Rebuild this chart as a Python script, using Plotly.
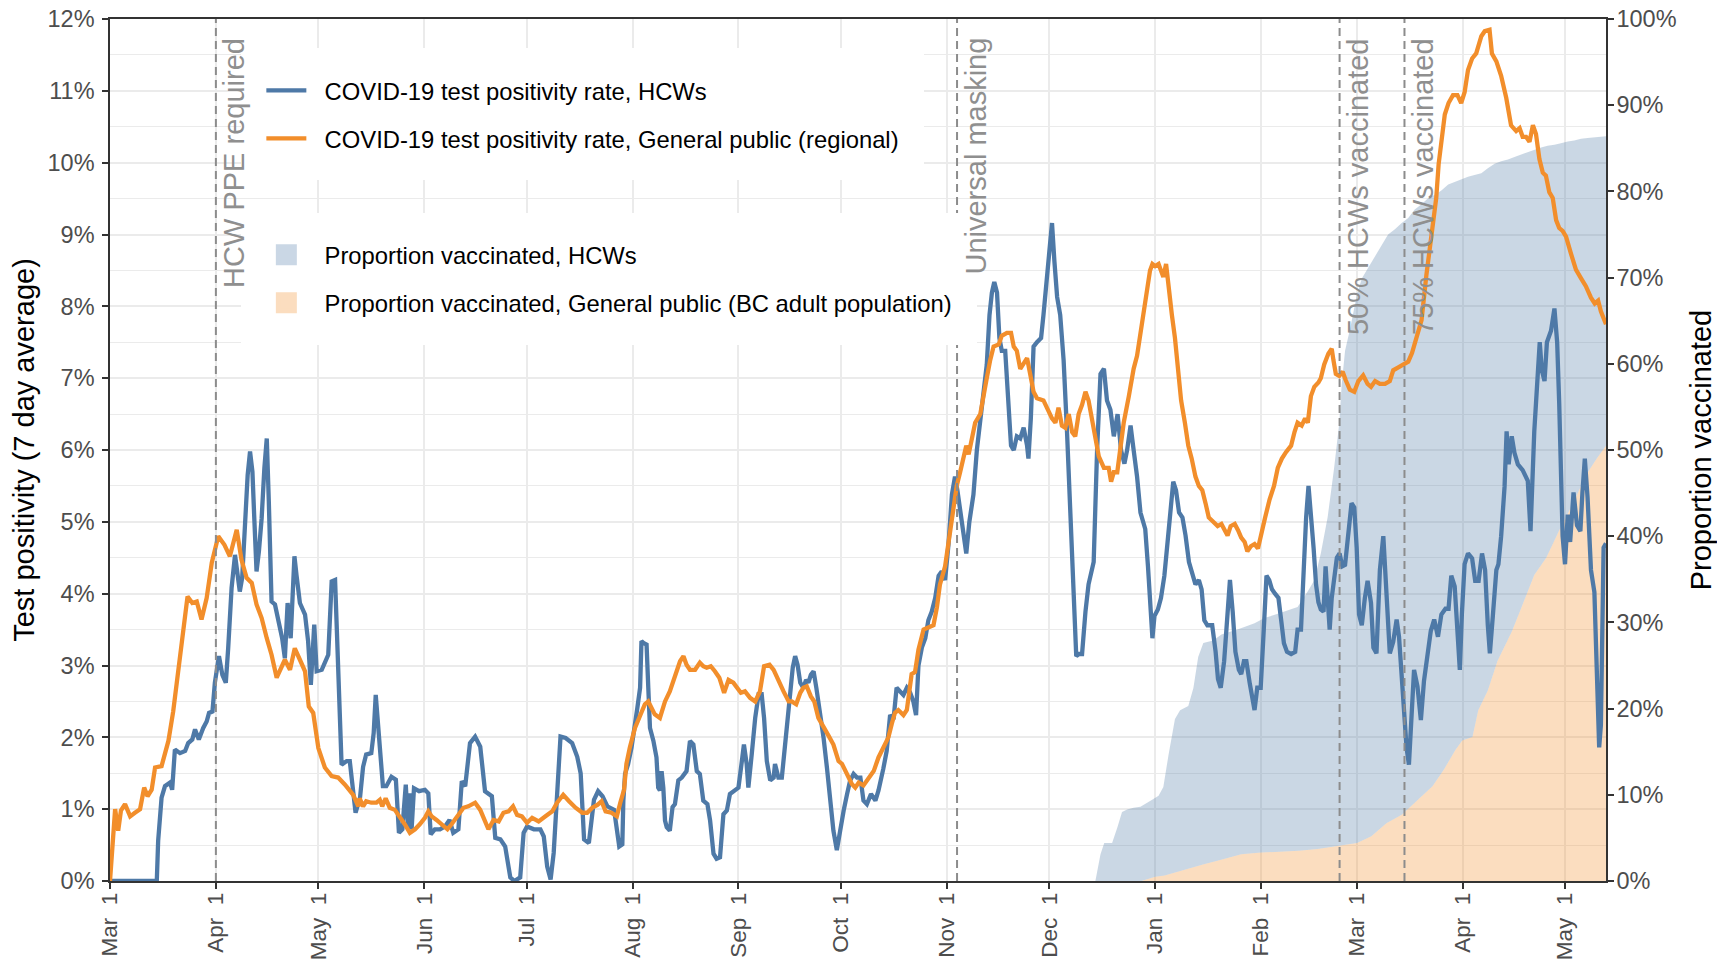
import pandas as pd
import plotly.graph_objects as go

START_DATE = "2020-03-01"
END_DATE = "2021-05-13"

# (days since 1 Mar 2020, 7-day test positivity %)
hcw_positivity = [
    (0, 0), (13.7, 0), (14.1, 0.56), (15.1, 1.16), (16.1, 1.32), (17.6, 1.37), (18.2, 1.27), (19.0, 1.83),
    (20.5, 1.78), (22.0, 1.81), (22.9, 1.92), (24.1, 1.97), (24.9, 2.11), (26.0, 1.97), (27.3, 2.13),
    (28.3, 2.22), (29.0, 2.34), (30.0, 2.36), (30.7, 2.76), (31.9, 3.13), (32.9, 2.87), (33.9, 2.76),
    (34.6, 3.24), (35.6, 4.08), (36.6, 4.54), (37.6, 4.17), (38.0, 4.03), (38.7, 4.22), (39.5, 4.91),
    (40.3, 5.65), (41.0, 5.98), (41.7, 5.70), (42.2, 5.10), (42.9, 4.31), (43.6, 4.59), (44.4, 5.05),
    (45.2, 5.75), (45.9, 6.16), (46.5, 5.28), (47.3, 3.89), (48.3, 3.85), (49.3, 3.61), (50.4, 3.38),
    (51.2, 3.10), (52.0, 3.87), (52.9, 3.38), (54.0, 4.52), (54.6, 4.26), (55.6, 3.87), (57.1, 3.71),
    (58.0, 3.34), (58.8, 2.73), (59.8, 3.57), (60.5, 2.92), (62.0, 2.94), (63.9, 3.15), (64.9, 4.17),
    (65.9, 4.19), (66.8, 3.01), (67.8, 1.62), (69.3, 1.67), (70.2, 1.67), (71.9, 0.95), (73.2, 1.16),
    (74.1, 1.59), (75.0, 1.76), (76.5, 1.78), (77.2, 2.06), (77.8, 2.59), (78.5, 2.15), (79.2, 1.73),
    (79.9, 1.32), (80.9, 1.32), (82.4, 1.45), (83.7, 1.41), (84.6, 0.67), (85.6, 0.72), (86.6, 1.34),
    (87.3, 0.72), (87.8, 1.22), (88.3, 0.72), (89.0, 1.29), (90.5, 1.25), (92.2, 1.27), (93.2, 1.22),
    (93.9, 0.65), (95.1, 0.72), (96.6, 0.72), (98.1, 0.76), (99.4, 0.85), (100.5, 0.67), (102.0, 0.72),
    (103.0, 1.39), (104.0, 1.32), (105.4, 1.92), (106.9, 2.01), (108.4, 1.87), (109.8, 1.25), (111.8, 1.18),
    (112.8, 0.60), (114.3, 0.58), (115.7, 0.48), (117.2, 0.05), (118.4, 0.0), (120.1, 0.05), (121.1, 0.67),
    (122.1, 0.76), (124.1, 0.72), (126.0, 0.72), (127.0, 0.62), (128.0, 0.20), (129.0, 0.02), (129.9, 0.39),
    (130.9, 1.32), (131.9, 2.01), (133.4, 1.99), (135.3, 1.92), (136.8, 1.73), (137.8, 1.50), (138.8, 0.58),
    (140.2, 0.53), (141.7, 1.13), (142.9, 1.25), (144.2, 1.18), (145.6, 1.04), (147.6, 0.99), (149.1, 0.48),
    (150.0, 0.51), (150.3, 1.12), (150.8, 1.49), (151.7, 1.63), (152.7, 1.86), (153.4, 2.13), (154.4, 2.41),
    (155.2, 2.69), (155.6, 3.34), (156.3, 3.31), (157.1, 3.29), (157.6, 2.69), (158.1, 2.13), (159.1, 1.95),
    (160.0, 1.72), (160.5, 1.30), (161.0, 1.26), (161.5, 1.53), (162.0, 1.30), (162.5, 0.84), (163.0, 0.75),
    (163.9, 0.70), (164.7, 1.03), (165.4, 1.07), (166.4, 1.40), (167.4, 1.44), (168.8, 1.53), (169.8, 1.95),
    (170.8, 1.90), (171.8, 1.53), (172.7, 1.49), (173.7, 1.12), (174.9, 1.07), (175.7, 0.84), (176.7, 0.38),
    (177.6, 0.31), (178.6, 0.33), (179.6, 0.93), (180.6, 0.98), (181.5, 1.21), (183.0, 1.26), (184.0, 1.30),
    (185.0, 1.67), (185.6, 1.90), (186.4, 1.63), (186.9, 1.30), (187.9, 1.77), (188.9, 2.27), (189.9, 2.60),
    (190.8, 2.60), (191.5, 2.27), (192.3, 1.67), (193.3, 1.40), (194.3, 1.44), (194.7, 1.63), (195.7, 1.44),
    (196.7, 1.44), (197.7, 1.95), (198.7, 2.32), (199.3, 2.69), (199.9, 2.97), (200.6, 3.13), (201.3, 3.01),
    (202.1, 2.76), (203.0, 2.69), (203.8, 2.80), (204.5, 2.76), (205.2, 2.87), (206.0, 2.92), (206.8, 2.69),
    (207.9, 2.37), (208.9, 2.00), (209.9, 1.58), (210.9, 1.03), (211.8, 0.70), (212.8, 0.43), (213.8, 0.75),
    (214.8, 0.98), (215.8, 1.21), (216.7, 1.40), (217.7, 1.49), (218.7, 1.44), (219.7, 1.44), (220.6, 1.12),
    (221.6, 1.07), (222.8, 1.21), (224.1, 1.12), (225.0, 1.26), (226.4, 1.56), (227.4, 1.81), (228.4, 2.31),
    (229.4, 2.25), (230.3, 2.69), (231.3, 2.63), (232.3, 2.59), (233.3, 2.69), (234.2, 2.63), (235.2, 2.50),
    (236.0, 2.31), (236.7, 3.00), (237.7, 3.25), (238.7, 3.38), (239.6, 3.63), (240.6, 3.75), (241.6, 3.94),
    (242.6, 4.25), (243.5, 4.31), (244.5, 4.19), (245.5, 4.69), (246.5, 5.38), (247.4, 5.63), (248.1, 5.44),
    (249.4, 5.00), (250.7, 4.56), (251.6, 5.00), (252.8, 5.38), (253.8, 6.00), (254.8, 6.38), (255.8, 6.81),
    (256.7, 7.19), (257.5, 7.88), (258.2, 8.19), (258.9, 8.34), (259.7, 8.19), (260.4, 7.56), (261.1, 7.38),
    (262.1, 7.38), (262.8, 6.81), (263.8, 6.06), (264.6, 6.00), (265.5, 6.19), (266.5, 6.16), (267.5, 6.31),
    (268.5, 6.06), (268.9, 5.88), (269.6, 6.44), (270.4, 7.44), (271.4, 7.50), (272.6, 7.56), (273.3, 7.88),
    (274.3, 8.44), (275.1, 8.88), (275.8, 9.16), (276.5, 8.63), (277.3, 8.13), (278.2, 7.88), (279.2, 7.25),
    (280.2, 6.25), (281.2, 5.06), (282.1, 3.81), (282.9, 3.13), (283.7, 3.16), (284.6, 3.16), (285.6, 3.75),
    (286.5, 4.13), (288.0, 4.44), (289.0, 6.00), (290.0, 7.06), (291.0, 7.13), (291.9, 6.69), (292.9, 6.56),
    (293.9, 6.19), (295.0, 6.50), (296.0, 6.00), (297.0, 5.81), (297.8, 6.00), (298.8, 6.34), (299.7, 6.00),
    (300.7, 5.63), (301.7, 5.13), (303.1, 4.90), (303.9, 4.38), (304.5, 3.88), (305.2, 3.38), (305.8, 3.69),
    (306.8, 3.78), (307.7, 3.94), (308.7, 4.25), (309.7, 4.75), (310.7, 5.25), (311.3, 5.56), (312.1, 5.44),
    (313.0, 5.13), (314.0, 5.06), (314.9, 4.81), (315.9, 4.44), (316.9, 4.25), (317.8, 4.13), (318.8, 4.19),
    (319.6, 4.06), (320.4, 3.63), (321.3, 3.56), (322.7, 3.56), (323.7, 3.19), (324.4, 2.81), (325.2, 2.69),
    (326.2, 3.06), (327.2, 3.75), (327.9, 4.19), (328.7, 3.75), (329.5, 3.19), (330.5, 2.94), (331.2, 2.88),
    (332.0, 3.06), (332.7, 3.06), (333.7, 2.75), (334.6, 2.50), (335.1, 2.38), (335.9, 2.69), (336.9, 2.69),
    (337.8, 3.50), (338.6, 4.25), (339.4, 4.19), (340.2, 4.06), (341.1, 4.00), (342.1, 3.94), (342.9, 3.63),
    (343.7, 3.31), (344.6, 3.19), (345.8, 3.16), (347.0, 3.19), (347.7, 3.50), (348.7, 3.50), (349.5, 4.38),
    (350.2, 5.06), (350.9, 5.50), (351.6, 5.13), (352.4, 4.63), (353.1, 4.13), (353.8, 3.88), (354.5, 3.78),
    (355.3, 3.75), (355.9, 4.38), (356.5, 3.88), (357.1, 3.50), (357.7, 3.94), (358.4, 4.25), (359.2, 4.50),
    (360.0, 4.56), (360.8, 4.38), (361.6, 4.40), (362.6, 4.80), (363.5, 5.26), (364.3, 5.20), (365.0, 4.64),
    (365.7, 3.71), (366.5, 3.56), (367.4, 3.94), (368.2, 4.18), (369.2, 3.87), (369.9, 3.25), (370.8, 3.17),
    (371.8, 4.33), (372.8, 4.80), (373.8, 3.87), (374.7, 3.17), (375.7, 3.33), (376.7, 3.64), (377.4, 3.40),
    (378.1, 2.94), (378.9, 2.47), (379.6, 1.86), (380.3, 1.62), (381.1, 2.32), (381.8, 2.94), (382.8, 2.71),
    (383.8, 2.24), (384.7, 2.78), (385.7, 3.09), (386.7, 3.48), (387.7, 3.64), (388.8, 3.40), (389.8, 3.71),
    (391.0, 3.79), (391.9, 3.79), (392.7, 4.25), (393.7, 4.10), (394.5, 3.56), (395.2, 2.94), (395.8, 3.71),
    (396.6, 4.41), (397.6, 4.56), (398.8, 4.49), (399.7, 4.18), (400.7, 4.18), (401.7, 4.56), (402.6, 4.33),
    (403.4, 3.56), (404.0, 3.17), (404.9, 3.71), (405.9, 4.33), (406.5, 4.41), (407.3, 4.80), (408.3, 5.49),
    (408.9, 6.26), (409.5, 5.80), (410.4, 6.19), (411.2, 5.96), (412.2, 5.80), (413.6, 5.72), (415.1, 5.57),
    (415.9, 4.87), (416.3, 5.49), (417.0, 6.26), (418.0, 7.04), (418.6, 7.50), (419.2, 7.11), (420.0, 6.96),
    (420.7, 7.50), (421.9, 7.66), (422.9, 7.97), (423.7, 7.50), (424.3, 6.65), (424.8, 5.49), (425.3, 4.80),
    (426.0, 4.41), (426.8, 5.10), (427.5, 4.72), (428.5, 5.41), (429.5, 4.95), (430.5, 4.87), (431.1, 5.41),
    (431.8, 5.88), (432.6, 5.34), (433.6, 4.33), (434.6, 4.02), (435.3, 2.94), (436.0, 1.86), (436.5, 2.17),
    (437.3, 4.64), (438.0, 4.70),
]

gp_positivity = [
    (0, 0), (1.5, 1.00), (2.4, 0.70), (3.2, 0.98), (4.4, 1.07), (5.9, 0.90), (7.3, 0.95), (8.8, 1.00),
    (10.0, 1.30), (11.0, 1.18), (12.2, 1.27), (13.2, 1.58), (15.1, 1.60), (17.1, 1.95), (18.5, 2.36),
    (20.0, 2.97), (21.5, 3.48), (22.7, 3.96), (24.1, 3.87), (25.4, 3.89), (26.8, 3.64), (28.3, 3.94),
    (29.8, 4.43), (31.7, 4.80), (33.5, 4.68), (35.1, 4.52), (37.1, 4.89), (38.5, 4.47), (40.0, 4.22),
    (41.5, 4.15), (42.9, 3.85), (44.4, 3.66), (45.9, 3.38), (47.3, 3.15), (48.8, 2.83), (50.2, 2.97),
    (51.2, 3.08), (52.7, 2.94), (54.1, 3.24), (55.6, 3.08), (57.1, 2.92), (58.2, 2.43), (59.5, 2.34),
    (61.0, 1.85), (62.9, 1.58), (64.9, 1.46), (66.8, 1.44), (68.8, 1.34), (71.2, 1.20), (72.7, 1.04),
    (73.1, 1.15), (74.1, 1.04), (75.0, 1.11), (76.5, 1.09), (78.0, 1.09), (79.0, 1.13), (79.7, 1.04),
    (80.7, 1.15), (81.9, 1.02), (83.4, 0.99), (84.8, 0.90), (86.3, 0.79), (87.8, 0.67), (89.3, 0.72),
    (90.7, 0.79), (92.2, 0.88), (93.2, 0.97), (94.2, 0.90), (95.6, 0.85), (97.1, 0.79), (98.8, 0.72),
    (100.0, 0.79), (101.3, 0.88), (102.5, 0.95), (103.5, 1.02), (104.9, 1.04), (106.9, 1.09), (108.4, 0.99),
    (109.8, 0.85), (110.8, 0.72), (112.3, 0.85), (113.8, 0.83), (115.2, 0.95), (116.7, 0.97), (118.0, 1.04),
    (119.2, 0.92), (120.6, 0.90), (122.1, 0.81), (123.6, 0.88), (125.5, 0.83), (127.5, 0.90), (129.5, 0.97),
    (130.9, 1.09), (132.7, 1.20), (134.4, 1.11), (136.3, 1.02), (138.3, 0.95), (139.7, 0.95), (141.2, 1.02),
    (142.7, 1.06), (143.9, 1.11), (145.1, 0.97), (146.8, 0.95), (148.4, 0.90), (149.4, 1.09), (150.5, 1.27),
    (151.2, 1.63), (152.2, 1.86), (153.7, 2.13), (155.2, 2.32), (156.6, 2.46), (157.6, 2.50), (158.6, 2.41),
    (159.5, 2.32), (161.0, 2.27), (162.5, 2.50), (163.9, 2.64), (165.4, 2.87), (166.9, 3.06), (167.9, 3.13),
    (168.8, 3.01), (169.8, 2.94), (171.3, 2.94), (172.7, 3.04), (173.7, 2.99), (174.7, 2.97), (175.9, 2.99),
    (177.1, 2.92), (178.4, 2.83), (179.8, 2.62), (181.1, 2.80), (182.5, 2.76), (183.7, 2.69), (184.7, 2.62),
    (185.9, 2.64), (187.4, 2.55), (188.9, 2.50), (190.3, 2.64), (191.5, 2.99), (193.1, 3.01), (194.3, 2.94),
    (195.7, 2.78), (197.2, 2.64), (198.7, 2.50), (199.6, 2.50), (200.9, 2.46), (202.1, 2.62), (203.0, 2.69),
    (204.0, 2.71), (205.2, 2.57), (206.2, 2.50), (207.4, 2.27), (208.9, 2.13), (210.4, 2.02), (211.8, 1.90),
    (213.3, 1.67), (214.3, 1.63), (215.8, 1.49), (217.2, 1.35), (218.2, 1.30), (219.2, 1.37), (220.6, 1.33),
    (222.1, 1.44), (223.6, 1.53), (225.0, 1.72), (226.9, 1.91), (227.9, 2.00), (228.9, 2.19), (229.8, 2.34),
    (230.8, 2.38), (232.3, 2.31), (233.3, 2.38), (234.7, 2.88), (235.7, 2.91), (236.7, 3.22), (238.2, 3.50),
    (239.6, 3.53), (241.1, 3.56), (242.1, 3.81), (243.0, 4.13), (244.5, 4.38), (245.5, 4.69), (247.0, 5.19),
    (247.9, 5.50), (248.9, 5.69), (249.9, 5.88), (250.7, 6.06), (251.4, 5.94), (252.3, 6.13), (253.3, 6.38),
    (254.8, 6.50), (255.8, 6.81), (256.7, 7.00), (257.7, 7.25), (258.7, 7.44), (260.2, 7.47), (261.1, 7.59),
    (262.6, 7.63), (263.8, 7.63), (264.6, 7.44), (265.5, 7.38), (266.5, 7.13), (267.5, 7.22), (268.5, 7.28),
    (269.4, 7.06), (270.4, 6.81), (271.4, 6.72), (273.3, 6.69), (274.3, 6.59), (275.8, 6.44), (276.8, 6.38),
    (277.7, 6.59), (278.7, 6.34), (279.7, 6.31), (280.7, 6.50), (281.7, 6.25), (282.6, 6.19), (283.6, 6.50),
    (284.6, 6.63), (285.6, 6.81), (286.5, 6.69), (287.5, 6.44), (288.5, 6.13), (289.5, 5.91), (291.0, 5.75),
    (292.4, 5.75), (293.1, 5.56), (293.9, 5.69), (294.9, 5.69), (295.8, 6.06), (296.8, 6.38), (298.3, 6.75),
    (299.7, 7.13), (300.7, 7.31), (301.7, 7.60), (302.9, 7.95), (303.6, 8.19), (304.5, 8.50), (305.2, 8.59),
    (306.0, 8.56), (307.0, 8.59), (307.7, 8.50), (308.4, 8.41), (309.2, 8.59), (310.1, 8.13), (310.9, 7.88),
    (311.8, 7.56), (312.6, 7.13), (313.6, 6.69), (314.7, 6.38), (315.7, 6.06), (316.7, 5.88), (317.8, 5.63),
    (318.8, 5.50), (319.8, 5.44), (320.8, 5.25), (321.7, 5.06), (323.0, 5.00), (324.3, 4.94), (325.4, 4.97),
    (326.4, 4.88), (327.2, 4.81), (328.1, 4.94), (329.3, 4.97), (330.3, 4.88), (331.2, 4.78), (332.2, 4.72),
    (333.0, 4.59), (334.0, 4.66), (335.1, 4.69), (336.1, 4.63), (337.1, 4.81), (338.2, 5.06), (339.5, 5.31),
    (340.8, 5.50), (341.9, 5.75), (343.1, 5.88), (344.3, 5.97), (345.8, 6.06), (346.8, 6.25), (347.7, 6.38),
    (348.9, 6.34), (349.9, 6.44), (350.7, 6.38), (351.6, 6.75), (352.6, 6.88), (353.8, 6.94), (354.5, 7.00),
    (355.5, 7.19), (356.7, 7.34), (357.7, 7.41), (358.2, 7.25), (358.9, 7.06), (359.9, 7.03), (360.9, 7.09),
    (361.8, 6.97), (363.0, 6.84), (364.3, 6.81), (365.5, 6.96), (366.9, 7.04), (368.2, 6.92), (369.2, 6.88),
    (370.4, 6.96), (371.8, 6.92), (373.3, 6.92), (374.7, 6.96), (375.7, 7.11), (377.2, 7.15), (378.6, 7.19),
    (380.1, 7.23), (381.2, 7.35), (382.5, 7.58), (384.0, 7.81), (385.4, 8.43), (386.4, 8.82), (387.4, 9.13),
    (388.3, 9.51), (389.0, 9.98), (389.8, 10.29), (390.8, 10.67), (391.9, 10.83), (393.2, 10.94), (394.5, 10.94),
    (395.6, 10.83), (396.6, 10.98), (397.6, 11.29), (398.8, 11.45), (400.0, 11.52), (401.5, 11.76), (402.5, 11.83),
    (403.9, 11.85), (404.6, 11.52), (405.9, 11.41), (407.3, 11.21), (408.8, 10.90), (410.2, 10.52), (411.7, 10.44),
    (412.7, 10.48), (413.6, 10.36), (414.6, 10.36), (415.6, 10.29), (416.6, 10.52), (417.5, 10.40), (418.5, 10.05),
    (419.5, 9.86), (420.4, 9.82), (421.4, 9.59), (422.4, 9.51), (423.4, 9.20), (424.3, 9.09), (425.3, 9.05),
    (426.3, 8.97), (427.7, 8.74), (429.2, 8.51), (430.7, 8.39), (432.1, 8.28), (433.6, 8.12), (434.7, 8.04),
    (435.7, 8.08), (436.5, 7.93), (438.0, 7.75),
]

# (days since 1 Mar 2020, proportion vaccinated %)
hcw_vaccinated = [
    (288.5, 0), (290.0, 3.1), (291.1, 4.4), (293.4, 4.4), (295.0, 6.3), (296.3, 8.0), (297.8, 8.3),
    (299.7, 8.5), (301.7, 8.6), (303.1, 8.9), (305.0, 9.4), (307.0, 9.9), (308.4, 10.9), (309.9, 14.6),
    (310.9, 16.7), (311.8, 18.8), (313.3, 19.8), (315.7, 20.3), (317.2, 22.4), (318.6, 26.0), (320.1, 27.6),
    (323.0, 27.9), (325.4, 28.6), (330.3, 29.2), (335.1, 29.9), (338.0, 30.5), (341.9, 31.0), (345.8, 31.5),
    (347.7, 31.8), (350.7, 33.6), (352.6, 34.9), (354.5, 38.0), (356.5, 42.2), (358.4, 47.9), (359.9, 53.1),
    (360.6, 57.5), (361.6, 61.5), (363.1, 64.1), (365.0, 67.9), (366.5, 69.9), (368.4, 71.2), (370.4, 72.4),
    (372.3, 73.7), (374.2, 75.0), (376.2, 75.6), (378.1, 76.3), (380.1, 76.9), (382.0, 77.9), (384.0, 78.5),
    (385.9, 79.2), (387.9, 79.6), (389.8, 80.1), (391.8, 80.8), (393.7, 81.1), (395.6, 81.4), (397.6, 81.7),
    (399.5, 81.9), (401.5, 82.1), (403.4, 82.7), (405.4, 83.2), (407.3, 83.5), (409.3, 83.7), (411.2, 84.0),
    (413.2, 84.3), (415.1, 84.5), (417.0, 84.8), (419.0, 85.1), (420.9, 85.3), (422.9, 85.4), (424.8, 85.6),
    (426.8, 85.8), (428.7, 85.9), (430.7, 86.1), (432.6, 86.2), (434.6, 86.3), (438.0, 86.4),
]

gp_vaccinated = [
    (302.0, 0), (306.0, 0.5), (308.8, 0.65), (314.4, 1.3), (320.0, 1.9), (325.6, 2.5), (331.2, 3.1),
    (337.0, 3.3), (342.4, 3.4), (348.0, 3.5), (353.6, 3.7), (359.2, 4.0), (365.1, 4.4), (369.3, 5.2),
    (373.7, 6.7), (378.2, 7.7), (381.0, 8.7), (383.8, 9.8), (387.2, 11.0), (390.5, 12.9), (393.9, 15.2),
    (395.9, 16.3), (398.9, 16.7), (400.6, 19.8), (403.4, 22.1), (406.2, 25.5), (410.5, 29.0), (413.5, 32.0),
    (417.0, 35.5), (420.5, 37.5), (424.7, 41.0), (428.6, 44.0), (432.0, 47.0), (435.3, 49.0), (438.0, 50.5),
]

month_ticks = ["2020-03-01", "2020-04-01", "2020-05-01", "2020-06-01", "2020-07-01", "2020-08-01",
               "2020-09-01", "2020-10-01", "2020-11-01", "2020-12-01", "2021-01-01", "2021-02-01",
               "2021-03-01", "2021-04-01", "2021-05-01"]
month_names = ["Mar", "Apr", "May", "Jun", "Jul", "Aug", "Sep", "Oct", "Nov", "Dec",
               "Jan", "Feb", "Mar", "Apr", "May"]
month_labels = [m + "\u00a0\u00a01" for m in month_names]

positivity_ticks = list(range(0, 13))
positivity_labels = [f"{v}%" for v in positivity_ticks]
vaccinated_ticks = list(range(0, 101, 10))
vaccinated_labels = [f"{v}%" for v in vaccinated_ticks]

event_dates = ["2020-04-01", "2020-11-04", "2021-02-24", "2021-03-15"]
event_labels = ["HCW PPE required", "Universal masking", "50% HCWs vaccinated", "75% HCWs vaccinated"]

BLUE = "#4E79A7"
ORANGE = "#F28E2B"
FONT = "Liberation Sans, Arial, sans-serif"
PAD = "\u00a0\u00a0"


def to_xy(pairs):
    base = pd.Timestamp(START_DATE)
    days = [p[0] for p in pairs]
    vals = [p[1] for p in pairs]
    dates = base + pd.to_timedelta(days, unit="D")
    return list(dates), vals


fig = go.Figure()

gx, gy = to_xy(gp_vaccinated)
hx, hy = to_xy(hcw_vaccinated)
fig.add_trace(go.Scatter(x=gx, y=gy, yaxis="y", mode="lines", line=dict(width=0, color=ORANGE),
                         fill="tozeroy", fillcolor="rgba(242,142,43,0.3)", showlegend=False,
                         hoverinfo="skip"))
fig.add_trace(go.Scatter(x=hx, y=hy, yaxis="y", mode="lines", line=dict(width=0, color=BLUE),
                         fill="tonexty", fillcolor="rgba(78,121,167,0.3)", showlegend=False,
                         hoverinfo="skip"))

bx, by = to_xy(hcw_positivity)
ox, oy = to_xy(gp_positivity)
fig.add_trace(go.Scatter(x=bx, y=by, yaxis="y2", mode="lines", line=dict(color=BLUE, width=4.3),
                         name=PAD + "COVID-19 test positivity rate, HCWs", legend="legend",
                         legendgroup="l1"))
fig.add_trace(go.Scatter(x=ox, y=oy, yaxis="y2", mode="lines", line=dict(color=ORANGE, width=4.3),
                         name=PAD + "COVID-19 test positivity rate, General public (regional)",
                         legend="legend", legendgroup="l2"))

fig.add_trace(go.Scatter(x=[None], y=[None], yaxis="y", mode="markers",
                         marker=dict(symbol="square", size=16, color="#CAD7E5",
                                     line=dict(color="#CAD7E5", width=5)),
                         name=PAD + "Proportion vaccinated, HCWs", legend="legend2", legendgroup="f1"))
fig.add_trace(go.Scatter(x=[None], y=[None], yaxis="y", mode="markers",
                         marker=dict(symbol="square", size=16, color="#FBDDBF",
                                     line=dict(color="#FBDDBF", width=5)),
                         name=PAD + "Proportion vaccinated, General public (BC adult population)",
                         legend="legend2", legendgroup="f2"))

shapes = []
annotations = []
for d, lab in zip(event_dates, event_labels):
    shapes.append(dict(type="line", xref="x", yref="paper", x0=d, x1=d, y0=0, y1=1,
                       line=dict(color="#8C8C8C", width=2, dash="8px,5px"), layer="above"))
    annotations.append(dict(x=d, xref="x", y=1, yref="paper", text=lab, textangle=-90,
                            xanchor="left", yanchor="top", xshift=0, yshift=-17, showarrow=False,
                            font=dict(family=FONT, size=29, color="#8F8F8F")))

axis_common = dict(ticks="outside", ticklen=6, tickwidth=1.5, tickcolor="#333333",
                   showline=True, linecolor="#333333", linewidth=1.5, zeroline=False,
                   automargin=False)
ytick_font = dict(family=FONT, size=23.5, color="#4D4D4D")

legend_common = dict(xanchor="left", yanchor="top", bgcolor="white", bordercolor="white",
                     borderwidth=20, font=dict(family=FONT, size=23.8, color="black"),
                     tracegroupgap=14, itemwidth=40, orientation="v")

fig.update_layout(
    width=1709, height=952,
    margin=dict(l=102, r=111, t=11, b=79),
    paper_bgcolor="white", plot_bgcolor="white",
    font=dict(family=FONT, color="black"),
    xaxis=dict(type="date", range=[START_DATE, END_DATE], tickvals=month_ticks, ticktext=month_labels,
               tickangle=-90, mirror=True, showgrid=True, gridcolor="#EBEBEB", gridwidth=2,
               ticklabelstandoff=-5, tickfont=dict(family=FONT, size=22.5, color="#4D4D4D"),
               **axis_common),
    yaxis=dict(side="right", range=[0, 100], tickvals=vaccinated_ticks, ticktext=vaccinated_labels,
               showgrid=False, tickfont=ytick_font, ticklabeloverflow="allow",
               title=dict(text="Proportion vaccinated", font=dict(family=FONT, size=29, color="black"),
                          standoff=27),
               ticklabelstandoff=-2, **axis_common),
    yaxis2=dict(side="left", overlaying="y", range=[0, 12], tickvals=positivity_ticks,
                ticktext=positivity_labels, tickfont=ytick_font, ticklabeloverflow="allow",
                showgrid=True, gridcolor="#EBEBEB", gridwidth=2,
                minor=dict(dtick=0.5, showgrid=True, gridcolor="#EBEBEB", gridwidth=1, ticks=""),
                title=dict(text="Test positivity (7 day average)",
                           font=dict(family=FONT, size=29, color="black"), standoff=4),
                ticklabelstandoff=3, **axis_common),
    legend=dict(x=0.0878, y=0.9659, **legend_common),
    legend2=dict(x=0.0878, y=0.7751, **legend_common),
    shapes=shapes,
    annotations=annotations,
    showlegend=True,
)

fig.write_html("out.html")
